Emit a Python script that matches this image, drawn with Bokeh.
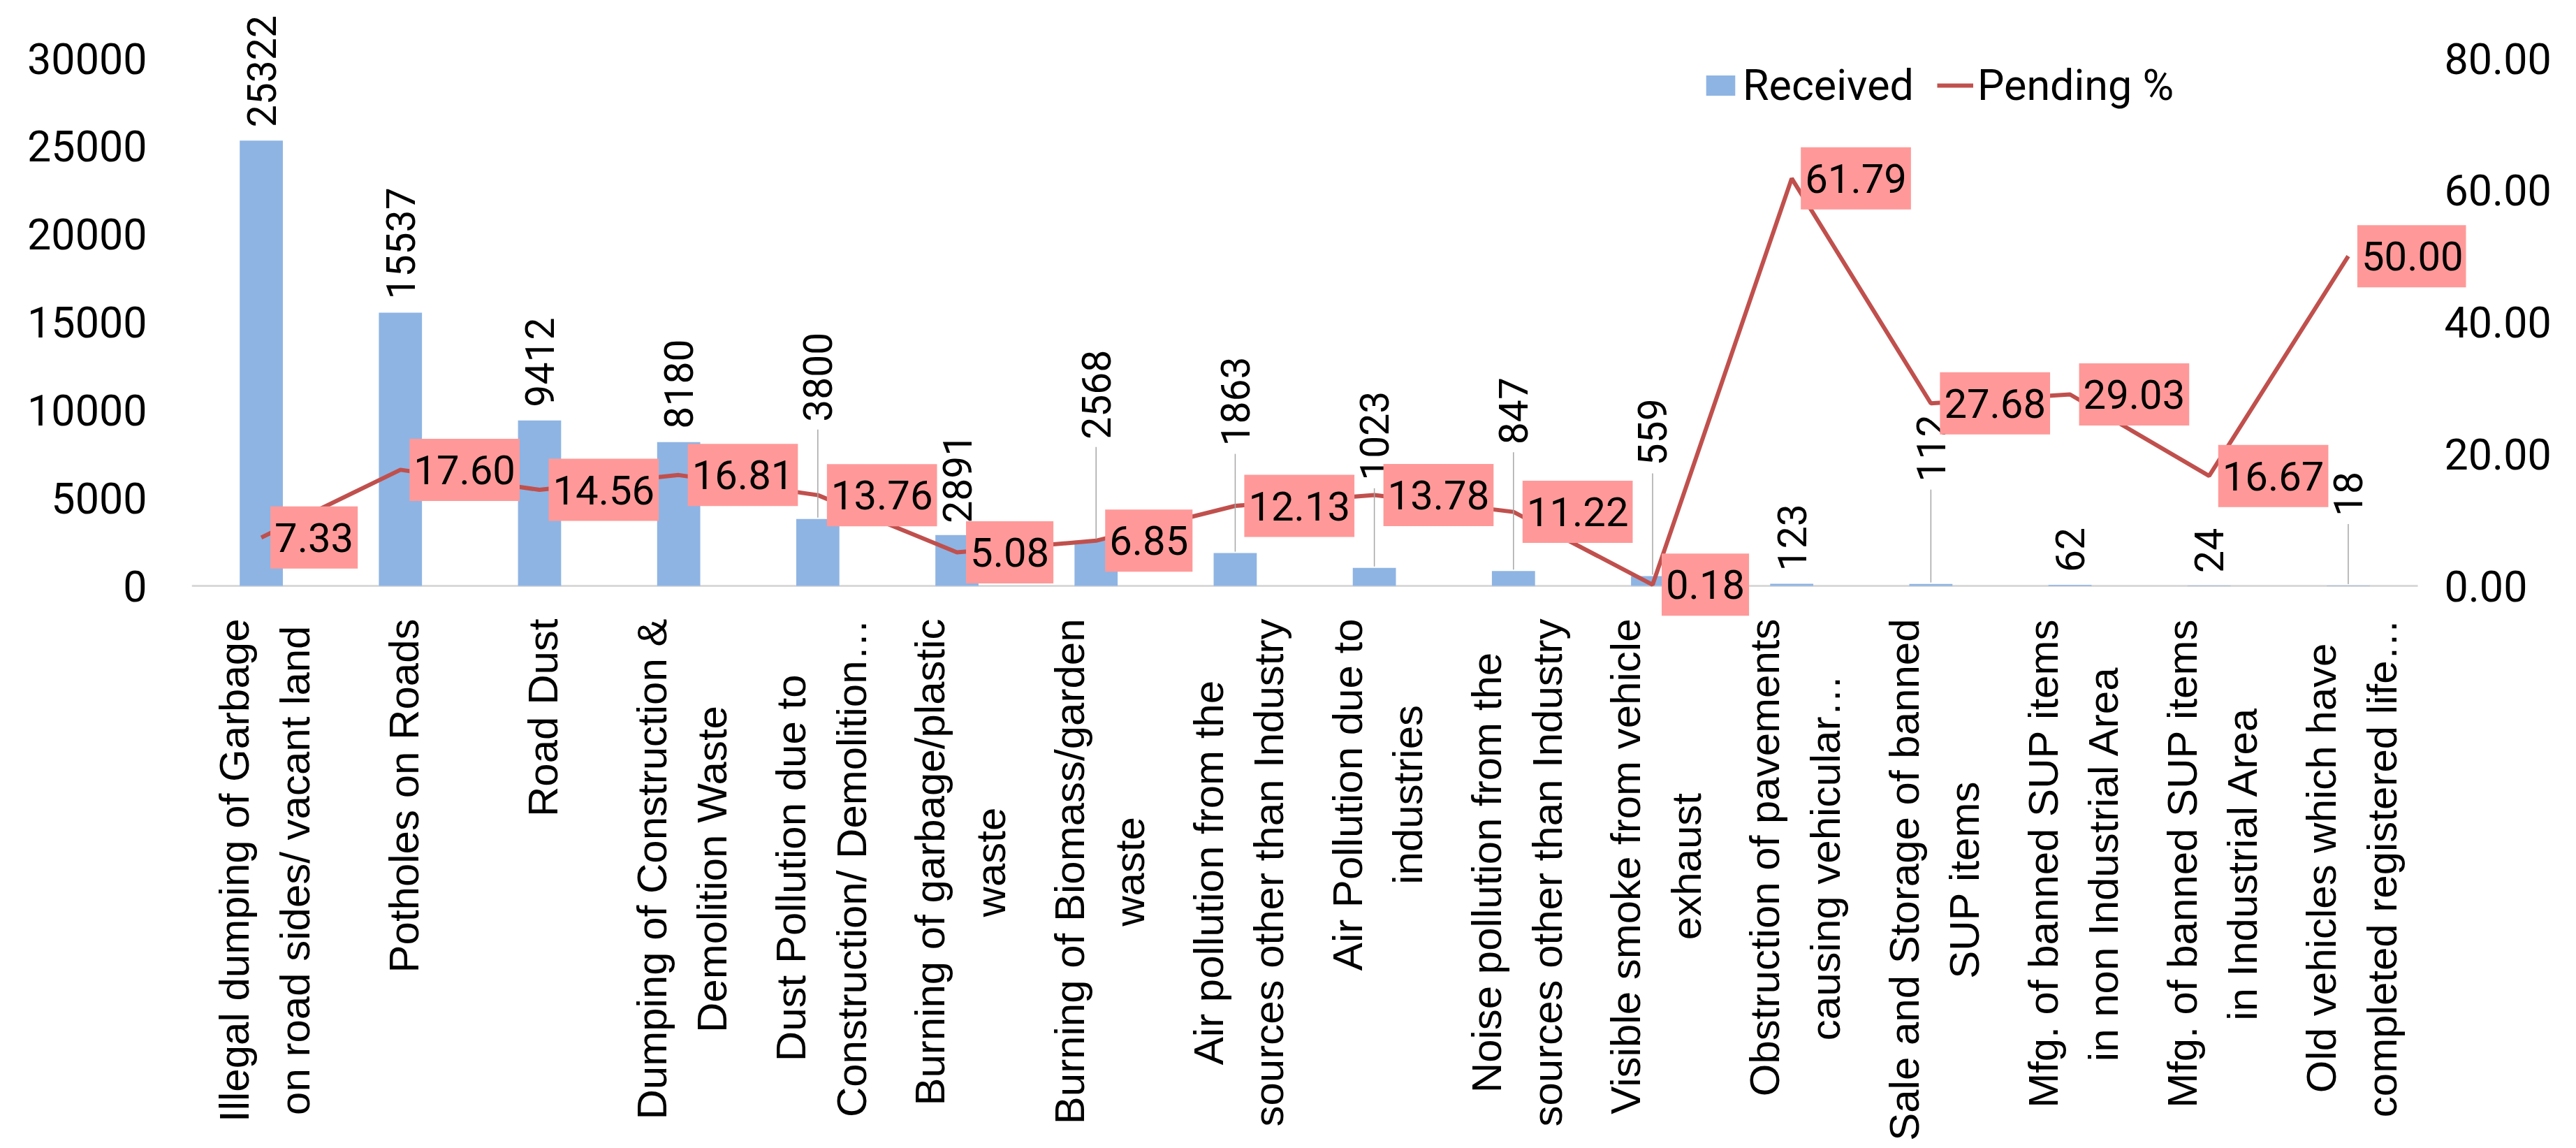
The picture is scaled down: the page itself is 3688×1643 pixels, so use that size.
import math
from bokeh.plotting import figure
from bokeh.models import (Range1d, LinearAxis, FixedTicker, NumeralTickFormatter,
                          ColumnDataSource, Legend, LegendItem)
from bokeh.core.properties import value
from bokeh.embed import file_html
from bokeh.resources import INLINE

# ---------------- data ----------------
categories = [
    "Illegal dumping of Garbage\non road sides/ vacant land",
    "Potholes on Roads",
    "Road Dust",
    "Dumping of Construction &\nDemolition Waste",
    "Dust Pollution due to\nConstruction/ Demolition\u2026",
    "Burning of garbage/plastic\nwaste",
    "Burning of Biomass/garden\nwaste",
    "Air pollution from the\nsources other than Industry",
    "Air Pollution due to\nindustries",
    "Noise pollution from the\nsources other than Industry",
    "Visible smoke from vehicle\nexhaust",
    "Obstruction of pavements\ncausing vehicular\u2026",
    "Sale and Storage of banned\nSUP items",
    "Mfg. of banned SUP items\nin non Industrial Area",
    "Mfg. of banned SUP items\nin Industrial Area",
    "Old vehicles which have\ncompleted registered life\u2026",
]
received = [25322, 15537, 9412, 8180, 3800, 2891, 2568, 1863, 1023, 847, 559, 123, 112, 62, 24, 18]
pending_pct = [7.33, 17.60, 14.56, 16.81, 13.76, 5.08, 6.85, 12.13, 13.78, 11.22, 0.18,
               61.79, 27.68, 29.03, 16.67, 50.00]
left_ticks = [0, 5000, 10000, 15000, 20000, 25000, 30000]
right_ticks = [0, 20, 40, 60, 80]

# ---------------- layout (pixels) ----------------
W, H = 3684, 1640
B_LEFT, B_RIGHT, B_TOP, B_BOTTOM = 274, 154, 12, 0
FRAME_W = W - B_LEFT - B_RIGHT
FRAME_H = H - B_TOP - B_BOTTOM
BASE_PX = 826            # baseline distance from frame top
AXIS_PX = 755            # pixels from 0 to 30000 (and 0 to 80)
CAT_PX = 199.19          # pixels per category
CAT_LABEL_GAP = 47       # px from baseline to category labels
LEGEND_BOTTOM = 158      # px from canvas top to legend bottom
label_lift_px = [19, 19, 19, 19, 139, 17, 145, 153, 125, 181, 158, 18, 146, 18, 18, 99]

units_per_px = left_ticks[-1] / AXIS_PX
y_top = BASE_PX * units_per_px
y_bot = -(FRAME_H - BASE_PX) * units_per_px
pscale = right_ticks[-1] / left_ticks[-1]

n = len(categories)
xs = [i + 0.5 for i in range(n)]
x_end = FRAME_W / CAT_PX

BAR = "#8EB4E3"
LINE = "#C0504D"
NUMFONT = "Roboto"

p = figure(width=W, height=H, output_backend="svg", toolbar_location=None,
           x_range=Range1d(0, x_end), y_range=Range1d(y_bot, y_top),
           min_border_left=B_LEFT, min_border_right=B_RIGHT,
           min_border_top=B_TOP, min_border_bottom=B_BOTTOM)
p.extra_y_ranges = {"pct": Range1d(y_bot * pscale, y_top * pscale)}
p.outline_line_color = None
p.xgrid.visible = False
p.ygrid.visible = False
p.xaxis.visible = False
p.background_fill_color = "white"
p.border_fill_color = "white"

# baseline (category axis line)
p.segment(x0=[0], y0=[0], x1=[n], y1=[0], line_color="#D9D9D9", line_width=3)

# bars
src_bar = ColumnDataSource(dict(x=xs, top=received))
bars = p.vbar(x="x", top="top", width=0.31, source=src_bar,
              fill_color=BAR, line_color=None)

# line
src_line = ColumnDataSource(dict(x=xs, y=pending_pct))
ln = p.line(x="x", y="y", source=src_line, y_range_name="pct",
            line_color=LINE, line_width=6)

# bar value labels (rotated) with leader lines where lifted
lab_y = [v + lift * units_per_px for v, lift in zip(received, label_lift_px)]
src_bl = ColumnDataSource(dict(x=xs, y=lab_y, t=[str(v) for v in received]))
p.text(x="x", y="y", text="t", source=src_bl, angle=math.pi / 2,
       text_align="left", text_baseline="middle",
       text_font=value(NUMFONT), text_font_size="57px", text_color="black")

lx, ly0, ly1 = [], [], []
for x, v, lift in zip(xs, received, label_lift_px):
    if lift > 60:
        lx.append(x)
        ly0.append(v + 2 * units_per_px)
        ly1.append(v + (lift - 11) * units_per_px)
p.segment(x0=lx, y0=ly0, x1=lx, y1=ly1, line_color="#A6A6A6", line_width=1.5)

# pending % labels in boxes
src_pl = ColumnDataSource(dict(x=xs, y=pending_pct, t=[f"{v:.2f}" for v in pending_pct]))
p.text(x="x", y="y", text="t", source=src_pl, y_range_name="pct",
       x_offset=13, text_align="left", text_baseline="middle",
       background_fill_color="#FF9999",
       padding=dict(left=6, right=6, top=24, bottom=24),
       text_font=value(NUMFONT), text_font_size="58px", text_color="black")

# category labels (rotated, lines centred, block hanging from the baseline)
src_cat = ColumnDataSource(dict(x=xs, y=[-CAT_LABEL_GAP * units_per_px] * n, t=categories))
p.text(x="x", y="y", text="t", source=src_cat, angle=math.pi / 2,
       anchor="center_right", text_align="center", text_baseline="middle",
       x_offset=5, text_line_height=1.29,
       text_font=value("Liberation Sans"), text_font_size="60px", text_color="black")

# left axis
ya = p.yaxis[0]
ya.ticker = FixedTicker(ticks=left_ticks)
ya.major_label_text_font = NUMFONT
ya.major_label_text_font_size = "61px"
ya.major_label_text_color = "black"
ya.axis_line_color = None
ya.major_tick_line_color = None
ya.minor_tick_line_color = None
ya.major_tick_out = 0
ya.major_tick_in = 0
ya.major_label_standoff = 64

# right axis
ra = LinearAxis(y_range_name="pct", ticker=FixedTicker(ticks=right_ticks),
                formatter=NumeralTickFormatter(format="0.00"))
ra.major_label_text_font = NUMFONT
ra.major_label_text_font_size = "61px"
ra.major_label_text_color = "black"
ra.axis_line_color = None
ra.major_tick_line_color = None
ra.minor_tick_line_color = None
ra.major_tick_out = 0
ra.major_tick_in = 0
ra.major_label_standoff = -31
p.add_layout(ra, "right")

# legend
legend = Legend(items=[LegendItem(label="Received", renderers=[bars]),
                       LegendItem(label="Pending %", renderers=[ln])],
                orientation="horizontal",
                location=(2163, FRAME_H - (LEGEND_BOTTOM - B_TOP)),
                glyph_width=52, glyph_height=36, label_standoff=6, spacing=33,
                padding=0, margin=0, border_line_color=None,
                background_fill_alpha=0,
                label_text_font=NUMFONT, label_text_font_size="61px",
                label_text_color="black")
p.add_layout(legend, "center")

open("out.html", "w").write(file_html(p, INLINE))
